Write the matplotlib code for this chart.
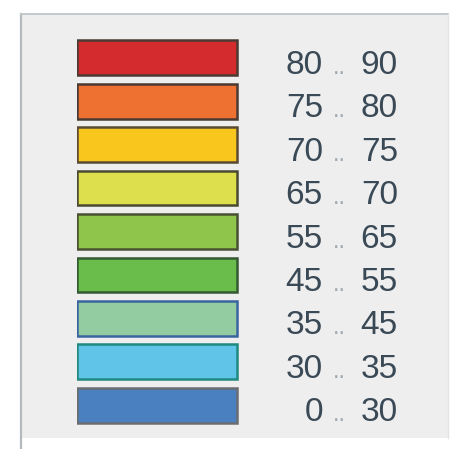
import matplotlib.pyplot as plt
from matplotlib.lines import Line2D
from matplotlib.patches import Rectangle

# legend classes, top to bottom
lows = [80, 75, 70, 65, 55, 45, 35, 30, 0]
highs = [90, 80, 75, 70, 65, 55, 45, 35, 30]
fill_colors = ['#d42b2e', '#ee7131', '#f9c61d', '#dedf4c', '#90c54b',
               '#6bbd4b', '#94cca2', '#60c4e8', '#4a80c0']
edge_colors = ['#4a3a33', '#4a3a33', '#5a4a33', '#4a4a33', '#4a5033',
               '#335a33', '#3a64a0', '#1f8a80', '#6a6e72']

W, H = 453, 449
fig = plt.figure(figsize=(W / 100, H / 100), dpi=100)
fig.patch.set_facecolor('white')

# grey panel behind the legend (border only on left / top, faint right)
panel = Rectangle((21 / W, 1 - 438 / H), 427 / W, 424 / H,
                  transform=fig.transFigure, facecolor='#eeeeee',
                  edgecolor='none', zorder=-5)
fig.patches.append(panel)
fig.lines.append(Line2D([21 / W, 21 / W], [1 - 449 / H, 1 - 14 / H],
                        transform=fig.transFigure, color='#b4b9bd', lw=1.6, zorder=-4))
fig.lines.append(Line2D([21 / W, 448 / W], [1 - 14 / H, 1 - 14 / H],
                        transform=fig.transFigure, color='#c4c8cb', lw=1.4, zorder=-4))
fig.lines.append(Line2D([448 / W, 448 / W], [1 - 14 / H, 1 - 438 / H],
                        transform=fig.transFigure, color='#e2e4e6', lw=1.0, zorder=-4))

# axes spanning the swatches and labels
top, bottom = 36, 427
left, right = 77, 398
ax = fig.add_axes([left / W, 1 - bottom / H, (right - left) / W, (bottom - top) / H])
ax.set_xlim(0, right - left)
ax.set_ylim(len(lows) - 0.5, -0.5)
ax.axis('off')

rows = list(range(len(lows)))
ax.barh(rows, 160, left=0, height=0.8, color=fill_colors,
        edgecolor=edge_colors, linewidth=1.8)

font = dict(family='Liberation Sans', fontsize=24)
for i, (lo, hi) in enumerate(zip(lows, highs)):
    y = i + 0.37
    ax.text(323 - left, y, str(lo), ha='right', va='baseline', color='#3a4956', **font)
    ax.text(339 - left, y, '..', ha='center', va='baseline', color='#a0a9b1',
            family='Liberation Sans', fontsize=17)
    ax.text(398 - left, y, str(hi), ha='right', va='baseline', color='#3a4956', **font)

fig.savefig('out.png', dpi=100, facecolor='white')
